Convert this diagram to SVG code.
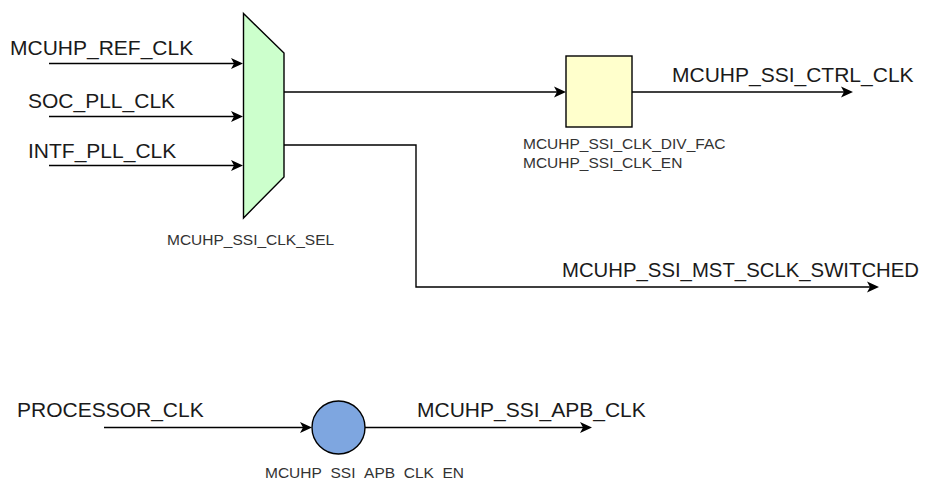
<svg xmlns="http://www.w3.org/2000/svg" width="933" height="480" viewBox="0 0 933 480">
<style>
.big{font-family:"Liberation Sans",Arial,sans-serif;font-size:21px;fill:#1a1a1a}
.small{font-family:"Liberation Sans",Arial,sans-serif;font-size:15.5px;fill:#333}
.wire{fill:none;stroke:#000;stroke-width:1.4;marker-end:url(#arr)}
.shape{stroke:#000;stroke-width:1.4}
</style>
<defs>
<marker id="arr" markerUnits="userSpaceOnUse" viewBox="0 -6 13 12" markerWidth="13" markerHeight="12" refX="9" refY="0" orient="auto">
<path d="M0,-5.5 L12,0 L0,5.5 L3,0 Z" fill="#000"/>
</marker>
</defs>
<rect width="933" height="480" fill="#fff"/>
<g id="connectors">
<path class="wire" d="M49,63.5 H240"/>
<path class="wire" d="M49,116.5 H240"/>
<path class="wire" d="M49,165.5 H240"/>
<path class="wire" d="M284,92 H563"/>
<path class="wire" d="M632,92 H850"/>
<path class="wire" d="M284,145 H416 V287 H876"/>
<path class="wire" d="M104,427.5 H309"/>
<path class="wire" d="M365,427.5 H589"/>
</g>
<g id="labels">
<text class="big" x="10" y="55">MCUHP_REF_CLK</text>
<text class="big" x="28" y="108">SOC_PLL_CLK</text>
<text class="big" x="28" y="158">INTF_PLL_CLK</text>
<text class="big" x="672" y="82">MCUHP_SSI_CTRL_CLK</text>
<text class="big" x="562" y="277" textLength="357" lengthAdjust="spacingAndGlyphs">MCUHP_SSI_MST_SCLK_SWITCHED</text>
<text class="big" x="17" y="417">PROCESSOR_CLK</text>
<text class="big" x="417" y="417">MCUHP_SSI_APB_CLK</text>
</g>
<g id="mux">
<polygon class="shape" points="243.5,13.5 284,53 284,177 243.5,218" fill="#ccffcc"/>
<text class="small" x="167" y="245">MCUHP_SSI_CLK_SEL</text>
</g>
<g id="divider">
<rect class="shape" x="566" y="56" width="66" height="71" fill="#ffffcc"/>
<text class="small" x="523" y="149">MCUHP_SSI_CLK_DIV_FAC</text>
<text class="small" x="523" y="168">MCUHP_SSI_CLK_EN</text>
</g>
<g id="gate">
<circle class="shape" cx="338.5" cy="427.5" r="26.5" fill="#7ea6e0"/>
<text class="small" x="265" y="478">MCUHP_SSI_APB_CLK_EN</text>
</g>
</svg>
